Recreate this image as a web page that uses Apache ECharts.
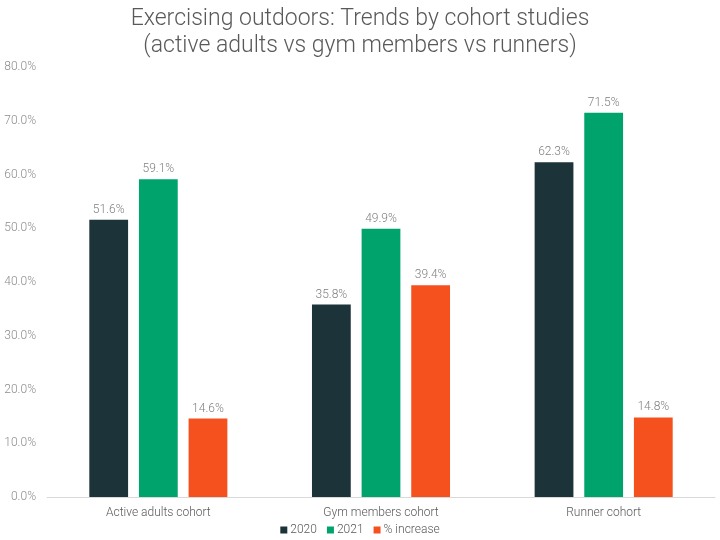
<!DOCTYPE html>
<html><head><meta charset="utf-8">
<script src="https://cdn.jsdelivr.net/npm/echarts@6/dist/echarts.min.js"></script>
<style>html,body{margin:0;padding:0;background:#fff}#c{width:720px;height:540px}</style>
</head><body><div id="c"></div>
<script>
const categories = ['Active adults cohort', 'Gym members cohort', 'Runner cohort'];
const seriesNames = ['2020', '2021', '% increase'];
const values2020 = [51.6, 35.8, 62.3];
const values2021 = [59.1, 49.9, 71.5];
const valuesIncrease = [14.6, 39.4, 14.8];
const colors = ['#1c3339', '#00a36c', '#f4511e'];

const font = 'Roboto';
const chart = echarts.init(document.getElementById('c'), null, {renderer: 'canvas'});
const mk = (name, data, color) => ({
  name, type: 'bar', data, barGap: '28%', barCategoryGap: '38%',
  itemStyle: {color},
  label: {show: true, position: 'top', distance: 4, color: '#7f7f7f', fontFamily: font, fontWeight: 300, fontSize: 12,
    formatter: p => p.value.toFixed(1) + '%'}
});
chart.setOption({
  animation: false,
  title: {
    text: 'Exercising outdoors: Trends by cohort studies\n(active adults vs gym members vs runners)',
    left: 'center', top: 1,
    textStyle: {fontFamily: font, fontWeight: 300, fontSize: 23, color: '#595959', lineHeight: 27}
  },
  legend: {
    bottom: -1, left: 'center', itemWidth: 7, itemHeight: 7, itemGap: 10, icon: 'rect',
    textStyle: {fontFamily: font, fontWeight: 300, fontSize: 12, color: '#595959', padding: [0,0,0,-2]},
    data: seriesNames
  },
  grid: {left: 47, right: 5, top: 67, bottom: 43},
  xAxis: {
    type: 'category', data: categories,
    axisLine: {lineStyle: {color: '#d9d9d9'}}, axisTick: {show: false},
    axisLabel: {fontFamily: font, fontWeight: 300, fontSize: 12, color: '#595959', margin: 10}
  },
  yAxis: {
    type: 'value', min: 0, max: 80, interval: 10,
    splitLine: {show: false}, axisLine: {show: false}, axisTick: {show: false},
    axisLabel: {fontFamily: font, fontWeight: 300, fontSize: 12, color: '#8c8c8c', margin: 11,
      formatter: v => v.toFixed(1) + '%'}
  },
  series: [mk(seriesNames[0], values2020, colors[0]), mk(seriesNames[1], values2021, colors[1]), mk(seriesNames[2], valuesIncrease, colors[2])]
});
</script></body></html>
